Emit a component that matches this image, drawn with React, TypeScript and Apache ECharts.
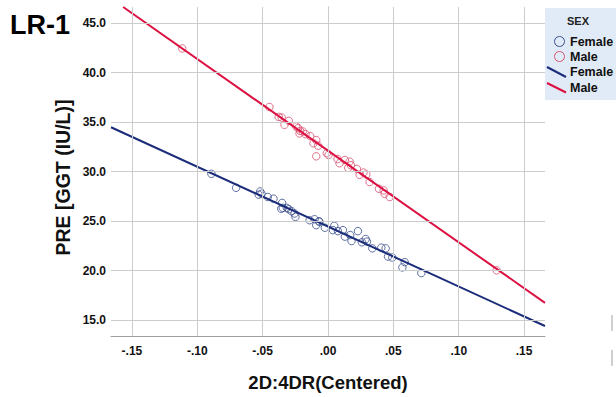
import React, { useEffect, useRef } from "react";
import * as echarts from "echarts";

const xTicks = [-0.15, -0.1, -0.05, 0, 0.05, 0.1, 0.15];
const yTicks = [15, 20, 25, 30, 35, 40, 45];

const maleX = [-0.1115, -0.0448, -0.0377, -0.0354, -0.0333, -0.03, -0.0243, -0.0228, -0.0213, -0.0193, -0.0218, -0.0172, -0.0136, -0.009, -0.0111, -0.0075, -0.009, -0.0009, 0.0004, 0.0073, 0.0088, 0.0129, 0.0165, 0.0155, 0.0175, 0.0221, 0.0242, 0.0272, 0.0293, 0.0318, 0.039, 0.0426, 0.0433, 0.0472, 0.129];
const maleY = [42.45, 36.53, 35.53, 35.47, 34.73, 35.13, 34.56, 34.39, 34.12, 34.06, 33.86, 33.79, 33.59, 33.19, 32.86, 32.62, 31.55, 31.86, 31.69, 31.28, 30.85, 31.18, 31.01, 30.38, 30.65, 30.28, 29.68, 29.91, 29.71, 28.95, 28.27, 28.1, 27.77, 27.44, 20.02];

const femaleX = [-0.0892, -0.0703, -0.0519, -0.0509, -0.053, -0.0461, -0.0417, -0.0351, -0.0346, -0.0315, -0.03, -0.0279, -0.0256, -0.0249, -0.0358, -0.0141, -0.0103, -0.009, -0.007, -0.0065, -0.0024, 0.0037, 0.0048, 0.0076, 0.0114, 0.0129, 0.017, 0.018, 0.0229, 0.0259, 0.0288, 0.0298, 0.0339, 0.0408, 0.0441, 0.0459, 0.0492, 0.0587, 0.0569, 0.0714];
const femaleY = [29.78, 28.37, 28.0, 27.77, 27.67, 27.44, 27.27, 26.84, 26.34, 26.34, 26.2, 26.0, 25.77, 25.43, 26.25, 25.09, 25.19, 24.59, 24.99, 24.93, 24.33, 24.09, 24.53, 23.99, 24.09, 23.43, 23.59, 22.99, 23.99, 22.86, 23.19, 22.93, 22.25, 22.32, 22.25, 21.42, 21.32, 20.85, 20.32, 19.75];

const maleFitX = [-0.1567, 0.166];
const maleFitY = [46.64, 16.74];
const femaleFitX = [-0.166, 0.166];
const femaleFitY = [34.49, 14.4];

const BLUE = "#1b2d7a";
const BLUE_PT = "#3a4d8c";
const RED = "#dc1040";
const RED_PT = "#d9506f";
const FONT = "Liberation Sans, Arial, sans-serif";

const zip = (xs: number[], ys: number[]) => xs.map((x, i) => [x, ys[i]]);

const fmtX = (v: number) => {
  const s = Math.abs(v).toFixed(2).replace(/^0/, "");
  return (v < -1e-9 ? "-" : "") + s;
};

export default function App() {
  const ref = useRef<HTMLDivElement>(null);
  useEffect(() => {
    if (!ref.current) return;
    const chart = echarts.init(ref.current, undefined, { renderer: "svg" });
    const gridLine = { color: "#cccccc", width: 1, type: "solid" as const };
    chart.setOption({
      animation: false,
      backgroundColor: "#ffffff",
      grid: { left: 111, top: 7, right: 71, bottom: 59, containLabel: false },
      xAxis: {
        type: "value",
        min: -0.166,
        max: 0.166,
        axisLine: { show: true, lineStyle: { color: "#a0a0a0", width: 1 } },
        axisTick: { show: false },
        splitLine: { show: false },
        axisLabel: {
          customValues: xTicks,
          formatter: (v: number) => fmtX(v),
          color: "#111",
          fontWeight: "bold",
          fontSize: 12,
          fontFamily: FONT,
          margin: 9,
        },
        name: "2D:4DR(Centered)",
        nameLocation: "middle",
        nameGap: 37,
        nameTextStyle: { color: "#111", fontWeight: "bold", fontSize: 18.5, fontFamily: FONT },
      },
      yAxis: {
        type: "value",
        min: 13.39,
        max: 46.64,
        axisLine: { show: true, lineStyle: { color: "#a0a0a0", width: 1 } },
        axisTick: { show: false },
        splitLine: { show: false },
        axisLabel: {
          customValues: yTicks,
          formatter: (v: number) => v.toFixed(1),
          color: "#111",
          fontWeight: "bold",
          fontSize: 12,
          fontFamily: FONT,
          margin: 5,
        },
      },
      series: [
        {
          type: "scatter",
          data: [],
          z: 1,
          silent: true,
          markLine: {
            silent: true,
            symbol: "none",
            label: { show: false },
            lineStyle: gridLine,
            emphasis: { disabled: true },
            data: [
              ...yTicks.map((v) => ({ yAxis: v })),
              ...xTicks.map((v) => ({ xAxis: v })),
            ],
          },
        },
        {
          name: "Female",
          type: "scatter",
          data: zip(femaleX, femaleY),
          symbol: "circle",
          symbolSize: 7.5,
          z: 3,
          itemStyle: { color: "rgba(255,255,255,0)", borderColor: BLUE_PT, borderWidth: 1 },
        },
        {
          name: "Male",
          type: "scatter",
          data: zip(maleX, maleY),
          symbol: "circle",
          symbolSize: 7.5,
          z: 3,
          itemStyle: { color: "rgba(255,255,255,0)", borderColor: RED_PT, borderWidth: 1 },
        },
        {
          name: "Female fit",
          type: "line",
          data: zip(femaleFitX, femaleFitY),
          showSymbol: false,
          z: 4,
          clip: true,
          lineStyle: { color: BLUE, width: 2 },
        },
        {
          name: "Male fit",
          type: "line",
          data: zip(maleFitX, maleFitY),
          showSymbol: false,
          z: 4,
          clip: true,
          lineStyle: { color: RED, width: 2 },
        },
      ],
      graphic: [
        {
          type: "text",
          left: 10,
          top: 11,
          style: { text: "LR-1", fontSize: 27, fontWeight: "bold", fontFamily: FONT, fill: "#000" },
        },
        {
          type: "text",
          x: 63,
          y: 177.5,
          rotation: Math.PI / 2,
          style: {
            text: "PRE [GGT (IU/L)]",
            fontSize: 19.5,
            fontWeight: "bold",
            fontFamily: FONT,
            fill: "#111",
            align: "center",
            verticalAlign: "middle",
          },
        },
        {
          type: "rect",
          shape: { x: 545, y: 8, width: 71, height: 92 },
          style: { fill: "#e1ebf7" },
          z: 10,
        },
        {
          type: "text",
          x: 578,
          y: 21,
          z: 11,
          style: { text: "SEX", fontSize: 11, fontWeight: "bold", fontFamily: FONT, fill: "#222", align: "center", verticalAlign: "middle" },
        },
        {
          type: "circle",
          shape: { cx: 559.5, cy: 41.5, r: 5 },
          z: 11,
          style: { fill: "none", stroke: BLUE_PT, lineWidth: 1 },
        },
        {
          type: "circle",
          shape: { cx: 559.5, cy: 56.5, r: 5 },
          z: 11,
          style: { fill: "none", stroke: RED_PT, lineWidth: 1 },
        },
        {
          type: "line",
          shape: { x1: 547, y1: 67, x2: 566, y2: 77 },
          z: 11,
          style: { stroke: BLUE, lineWidth: 2 },
        },
        {
          type: "line",
          shape: { x1: 547, y1: 83, x2: 566, y2: 92.5 },
          z: 11,
          style: { stroke: RED, lineWidth: 2 },
        },
        ...[
          ["Female", 41.5],
          ["Male", 56.5],
          ["Female", 72],
          ["Male", 87.5],
        ].map(([t, y]) => ({
          type: "text",
          x: 570,
          y: y as number,
          z: 11,
          style: { text: t as string, fontSize: 12.5, fontWeight: "bold", fontFamily: FONT, fill: "#111", verticalAlign: "middle" },
        })),
        {
          type: "line",
          shape: { x1: 612, y1: 315, x2: 612, y2: 331 },
          style: { stroke: "#d0d0d0", lineWidth: 2 },
        },
        {
          type: "line",
          shape: { x1: 612, y1: 350, x2: 612, y2: 366 },
          style: { stroke: "#d0d0d0", lineWidth: 2 },
        },
      ],
    });
    return () => chart.dispose();
  }, []);
  return <div ref={ref} style={{ width: 616, height: 397, position: "absolute", left: 0, top: 0 }} />;
}
